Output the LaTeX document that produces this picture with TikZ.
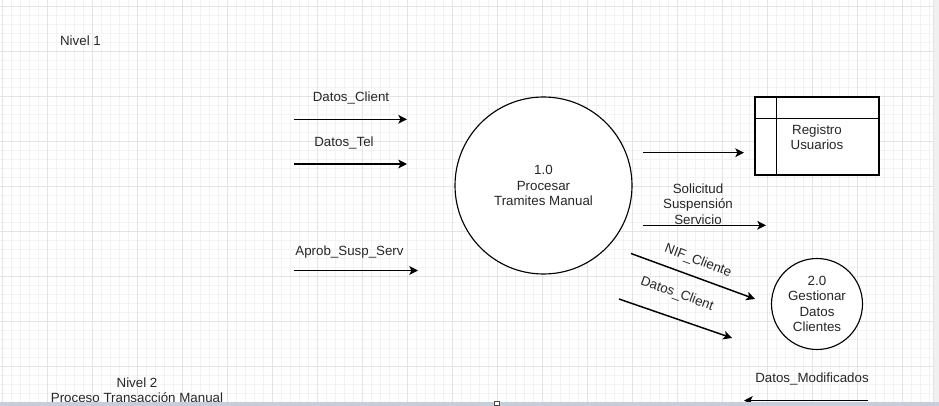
\documentclass[tikz,border=0pt]{standalone}
\usepackage{fontspec}
\setmainfont{Liberation Sans}
\usetikzlibrary{arrows.meta}
\definecolor{txtc}{RGB}{38,38,38}
\definecolor{gridmajor}{RGB}{228,228,228}
\definecolor{gridminor}{RGB}{243,243,243}
\definecolor{barc}{RGB}{197,207,219}
\definecolor{scrollc}{RGB}{240,240,240}
\begin{document}
\begin{tikzpicture}[x=0.75pt,y=-0.75pt,
  lbl/.style={font=\fontsize{10}{11.6}\selectfont, text=txtc, inner sep=0pt, align=center},
  flow/.style={draw=black, line width=1.1pt, -{Stealth[length=6.5pt,width=6.5pt,inset=1.6pt]}},
  proc/.style={circle, draw=black, line width=0.85pt, fill=white, inner sep=0pt,
     font=\fontsize{10}{11.6}\selectfont, text=txtc, align=center},
  store/.style={draw=black, line width=0.95pt, fill=white, inner sep=0pt,
     minimum width=93pt, minimum height=58.5pt},
]
\useasboundingbox (0,0) rectangle (939,406);
\fill[white] (0,0) rectangle (939,406);
% grid
\foreach \gx in {2,11,...,932} {\draw[gridminor, line width=0.6pt] (\gx,0) -- (\gx,402);}
\foreach \gy in {6,15,...,402} {\draw[gridminor, line width=0.6pt] (0,\gy) -- (933,\gy);}
\foreach \gx in {2,47,...,932} {\draw[gridmajor, line width=0.6pt] (\gx,0) -- (\gx,402);}
\foreach \gy in {6,51,...,402} {\draw[gridmajor, line width=0.6pt] (0,\gy) -- (933,\gy);}

% titles
\node[lbl, anchor=base] (niv1) at (80.5,46) {Nivel 1};
\node[lbl, anchor=base] (niv2) at (137,402.5) {Nivel 2\\Proceso Transacción Manual};

% processes
\node[proc, minimum size=132.75pt] (p1) at (543.5,185.5) {1.0\\Procesar\\Tramites Manual};
\node[proc, minimum size=68.25pt] (p2) at (817,304) {2.0\\Gestionar\\Datos\\Clientes};

% data store
\node[store] (reg) at (817,136) {};
\draw[line width=0.95pt] ([xshift=16.5pt]reg.north west) -- ([xshift=16.5pt]reg.south west);
\draw[line width=0.95pt] ([yshift=-16.5pt]reg.north west) -- ([yshift=-16.5pt]reg.north east);
\node[lbl, anchor=base] (regt) at (817,150) {Registro\\Usuarios};

% incoming flows
\coordinate (a1s) at (294,119.3); \coordinate (a1e) at (407,119.3);
\coordinate (a2s) at (294,164);   \coordinate (a2e) at (407,164);
\coordinate (a3s) at (294,270.5); \coordinate (a3e) at (418,270.5);
\draw[flow] (a1s) -- (a1e);
\draw[flow] (a2s) -- (a2e);
\draw[flow] (a3s) -- (a3e);
\node[lbl, anchor=base] (l1) at (351,102) {Datos\_Client};
\node[lbl, anchor=base] (l2) at (344,147) {Datos\_Tel};
\node[lbl, anchor=base] (l3) at (349.5,255) {Aprob\_Susp\_Serv};

% outgoing flows
\coordinate (b1s) at (643,152.7); \coordinate (b1e) at (744,152.7);
\coordinate (b2s) at (643,225.3); \coordinate (b2e) at (766,225.3);
\draw[flow] (b1s) -- (b1e);
\draw[flow] (b2s) -- (b2e);
\node[lbl, anchor=base] (l4) at (698,224) {Solicitud\\Suspensión\\Servicio};

\coordinate (c1s) at (631,253.5); \coordinate (c1e) at (755,299);
\coordinate (c2s) at (619,299);   \coordinate (c2e) at (732,338);
\draw[flow] (c1s) -- (c1e);
\draw[flow] (c2s) -- (c2e);
\node[lbl, rotate=-21] (l5) at (698,261) {NIF\_Cliente};
\node[lbl, rotate=-20] (l6) at (677,294) {Datos\_Client};

\coordinate (d1s) at (868,400.5); \coordinate (d1e) at (744,400.5);
\draw[flow] (d1s) -- (d1e);
\node[lbl, anchor=base] (l7) at (812,382.5) {Datos\_Modificados};

% window chrome
\fill[scrollc] (933,0) rectangle (939,406);
\draw[gridmajor, line width=0.6pt] (933,0) -- (933,402);
\fill[barc] (0,402) rectangle (939,406);
\draw[black!70, fill=white, line width=0.6pt] (494.5,401) rectangle (499,405.5);
\end{tikzpicture}
\end{document}
